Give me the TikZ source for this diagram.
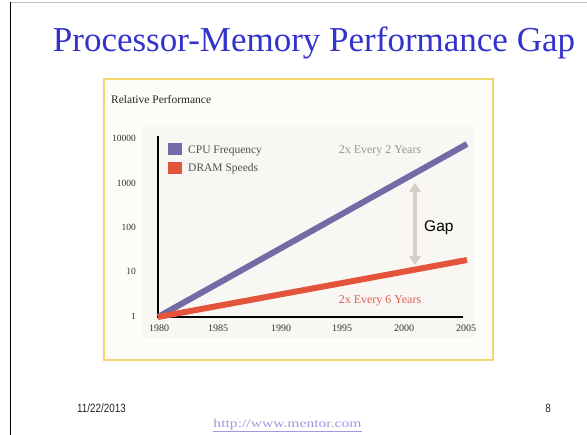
\documentclass[tikz,border=0pt]{standalone}
\usepackage{fontspec}
\setmainfont{Liberation Serif}
\newfontfamily\arialish{Liberation Sans}
\usetikzlibrary{arrows.meta}

\definecolor{titleblue}{RGB}{51,51,204}
\definecolor{cpupurple}{RGB}{118,106,166}
\definecolor{dramred}{RGB}{228,84,58}
\definecolor{gapgray}{RGB}{214,206,197}
\definecolor{framegold}{RGB}{246,214,112}
\definecolor{ratebluegray}{RGB}{150,150,150}
\definecolor{ratered}{RGB}{226,92,80}
\definecolor{linklav}{RGB}{160,155,222}
\definecolor{legendtext}{RGB}{80,80,80}
\definecolor{plotbg}{RGB}{248,247,243}
\definecolor{panelbg}{RGB}{253,252,249}

\tikzset{
  ylab/.style={anchor=base east, font=\fontsize{9.5}{10}\selectfont, text=black!80, inner sep=0pt},
  xlab/.style={anchor=base, font=\fontsize{10}{11}\selectfont, text=black!80, inner sep=0pt},
  legtext/.style={anchor=base west, font=\fontsize{11.5}{12}\selectfont, text=legendtext, inner sep=0pt},
  ratelab/.style={anchor=base, font=\fontsize{12}{13}\selectfont, inner sep=0pt},
  trend/.style={line width=6pt, line cap=butt},
  footer/.style={font=\arialish\fontsize{12}{13}\selectfont, text=black!85, inner sep=0pt, anchor=base},
}

\begin{document}
\begin{tikzpicture}[x=1pt, y=-1pt]
  \useasboundingbox (0,0) rectangle (587,435);
  \fill[white] (0,0) rectangle (587,435);

  % slide edges
  \draw[black!25, line width=0.8pt] (10,2) -- (587,2);
  \draw[black, line width=0.9pt] (10,2) -- (10,435);

  % title
  \node[anchor=base, inner sep=0pt, text=titleblue,
        font=\fontsize{35}{38}\selectfont] (title) at (314,52)
        {Processor-Memory Performance Gap};

  % chart panel
  \draw[framegold, line width=1.6pt, fill=panelbg] (104,79) rectangle (493,360);
  \fill[plotbg] (143,125) rectangle (474,338);

  \node[anchor=base west, inner sep=0pt, font=\fontsize{11.5}{12}\selectfont,
        text=black!85] (ylabel) at (111,104) {Relative Performance};

  % axes
  \coordinate (o) at (158,317);
  \coordinate (ytop) at (158,136);
  \coordinate (xend) at (463,317);
  \draw[black, line width=1.2pt] (ytop) -- (o) -- (xend);

  % y tick labels
  \node[ylab] (y4) at (136,141.5) {10000};
  \node[ylab] (y3) at (136,186.5) {1000};
  \node[ylab] (y2) at (136,230.5) {100};
  \node[ylab] (y1) at (136,274.5) {10};
  \node[ylab] (y0) at (136,319.5) {1};

  % x tick labels
  \node[xlab] (x0) at (159,332) {1980};
  \node[xlab] (x1) at (218,332) {1985};
  \node[xlab] (x2) at (281,332) {1990};
  \node[xlab] (x3) at (342,332) {1995};
  \node[xlab] (x4) at (404,332) {2000};
  \node[xlab] (x5) at (466,332) {2005};

  % trend lines
  \coordinate (cpuend) at (467,144);
  \coordinate (dramend) at (467,260);
  \draw[trend, cpupurple] (o) -- (cpuend);
  \draw[trend, dramred] (o) -- (dramend);

  % legend
  \fill[cpupurple] (168,143) rectangle (182,155);
  \fill[dramred] (168,162) rectangle (182,174);
  \node[legtext] (lcpu) at (188,154) {CPU Frequency};
  \node[legtext] (ldram) at (188,172) {DRAM Speeds};

  % growth-rate labels
  \node[ratelab, text=ratebluegray] (rcpu) at (380,154) {2x Every 2 Years};
  \node[ratelab, text=ratered] (rdram) at (380,304) {2x Every 6 Years};

  % gap marker
  \coordinate (gaptop) at (415,183);
  \coordinate (gapbot) at (415,265);
  \draw[gapgray, line width=4pt,
        {Triangle[width=12pt,length=9pt]}-{Triangle[width=12pt,length=9pt]}]
        (gaptop) -- (gapbot);
  \node[anchor=base west, inner sep=0pt, font=\arialish\fontsize{15.5}{17}\selectfont]
        (gap) at (424,232) {Gap};

  % footer
  \node[footer] (date) at (101.5,413) {\scalebox{0.82}[1]{11/22/2013}};
  \node[footer] (page) at (548,413) {\scalebox{0.82}[1]{8}};
  \node[anchor=base, inner sep=0pt, text=linklav, font=\fontsize{12}{13}\selectfont]
        (url) at (287.5,427.5) {\scalebox{1.3}[1]{\underline{http://www.mentor.com}}};
\end{tikzpicture}
\end{document}
